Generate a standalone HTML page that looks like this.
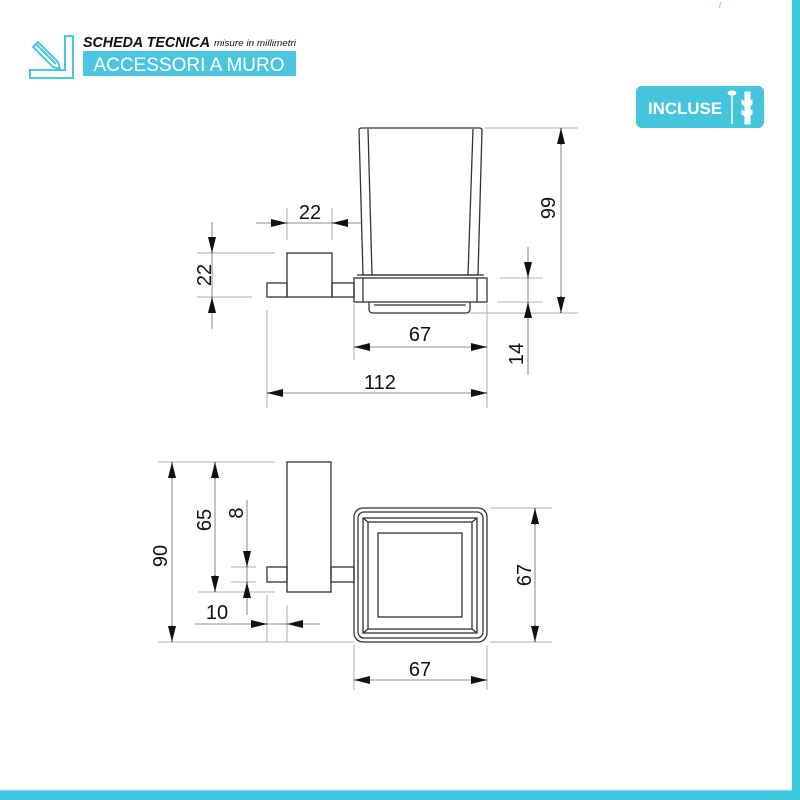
<!DOCTYPE html>
<html><head><meta charset="utf-8"><style>
html,body{margin:0;padding:0;background:#fff}
svg{display:block}
</style></head><body>
<svg width="800" height="800" viewBox="0 0 800 800" xmlns="http://www.w3.org/2000/svg" font-family="Liberation Sans, sans-serif">
<defs>
<marker id="a" viewBox="0 0 10 10" refX="10" refY="5" markerWidth="16" markerHeight="16" markerUnits="userSpaceOnUse" orient="auto-start-reverse"><path d="M0,2.5 L10,5 L0,7.5z" fill="#111"/></marker>
</defs>
<rect width="800" height="800" fill="#fff"/>
<rect x="792" y="0" width="8" height="800" fill="#3ec8dd"/>
<rect x="0" y="790" width="800" height="10" fill="#3ec8dd"/>
<line x1="0" y1="790" x2="792" y2="790" stroke="#bfeef5" stroke-width="1"/>
<line x1="721" y1="2" x2="719" y2="8" stroke="#7fd8e8" stroke-width="1"/>

<!-- header icon -->
<g fill="none" stroke="#4cc6e0" stroke-width="2">
<path d="M65,36 h8 v42 h-43 v-8 h35 z"/>
<path d="M33,47 l5,-5 l20,20 l2,7 l-7,-2 z"/>
<path d="M36,44 l20,20"/>
</g>
<text x="83" y="47" font-size="15" font-weight="bold" font-style="italic" fill="#111" textLength="127" lengthAdjust="spacingAndGlyphs">SCHEDA TECNICA</text>
<text x="214" y="46" font-size="9" font-style="italic" fill="#111" textLength="82" lengthAdjust="spacingAndGlyphs">misure in millimetri</text>
<rect x="83" y="51" width="213" height="25" fill="#4cc6e0"/>
<text x="189" y="71" font-size="19" fill="#fff" text-anchor="middle">ACCESSORI A MURO</text>

<!-- INCLUSE -->
<rect x="636" y="86" width="128" height="42" rx="6" fill="#45c4dd"/>
<text x="648" y="114" font-size="17" font-weight="bold" fill="#fff" textLength="74" lengthAdjust="spacingAndGlyphs">INCLUSE</text>
<g stroke="#fff" fill="#fff"><line x1="732" y1="94" x2="732" y2="124" stroke-width="1.5"/><ellipse cx="732" cy="93" rx="4" ry="2"/><rect x="745" y="92" width="5" height="32"/><path d="M742,100 l5,4 l5,-4 v4 l-5,4 l-5,-4z M742,110 l5,4 l5,-4 v4 l-5,4 l-5,-4z"/></g>

<!-- TOP VIEW DRAWING -->
<g fill="none" stroke="#333" stroke-width="1.3">
<path d="M359,130 q0,-2 3,-2 h117 q3,0 3,2 l-4,145 h-115 z"/>
<line x1="368" y1="129" x2="372" y2="275"/>
<line x1="473" y1="129" x2="468" y2="275"/>
<rect x="354" y="278" width="133" height="24"/>
<line x1="363" y1="278" x2="363" y2="302"/>
<line x1="477" y1="278" x2="477" y2="302"/>
<line x1="357" y1="275" x2="484" y2="275"/>
<path d="M369,302 v7 q0,4 4,4 h93 q4,0 4,-4 v-7"/>
<line x1="374" y1="305" x2="466" y2="305"/>
<rect x="287" y="253" width="45" height="44"/>
<rect x="267" y="283" width="20" height="14"/>
<rect x="332" y="283" width="22" height="14"/>
</g>
<g stroke="#999" stroke-width="0.8">
<line x1="287" y1="208" x2="287" y2="240"/><line x1="332" y1="208" x2="332" y2="240"/>
<line x1="197" y1="253" x2="275" y2="253"/><line x1="197" y1="297" x2="252" y2="297"/>
<line x1="485" y1="128" x2="578" y2="128"/><line x1="470" y1="313" x2="578" y2="313"/>
<line x1="500" y1="278" x2="543" y2="278"/><line x1="497" y1="302" x2="543" y2="302"/>
<line x1="354" y1="304" x2="354" y2="360"/><line x1="487" y1="304" x2="487" y2="408"/>
<line x1="267" y1="310" x2="267" y2="408"/>
</g>
<g stroke="#666" stroke-width="0.8">
<line x1="256" y1="223" x2="362" y2="223"/>
<line x1="212" y1="222" x2="212" y2="329"/>
<line x1="561" y1="128" x2="561" y2="313"/>
<line x1="528" y1="247" x2="528" y2="375"/>
<line x1="354" y1="347" x2="487" y2="347"/>
<line x1="267" y1="393" x2="487" y2="393"/>
</g>
<g stroke="none">
<line x1="271" y1="223" x2="287" y2="223" stroke="#111" marker-end="url(#a)"/>
<line x1="348" y1="223" x2="332" y2="223" stroke="#111" marker-end="url(#a)"/>
<line x1="212" y1="237" x2="212" y2="253" stroke="#111" marker-end="url(#a)"/>
<line x1="212" y1="313" x2="212" y2="297" stroke="#111" marker-end="url(#a)"/>
<line x1="561" y1="145" x2="561" y2="128" stroke="#111" marker-end="url(#a)"/>
<line x1="561" y1="296" x2="561" y2="313" stroke="#111" marker-end="url(#a)"/>
<line x1="528" y1="262" x2="528" y2="278" stroke="#111" marker-end="url(#a)"/>
<line x1="528" y1="318" x2="528" y2="302" stroke="#111" marker-end="url(#a)"/>
<line x1="370" y1="347" x2="354" y2="347" stroke="#111" marker-end="url(#a)"/>
<line x1="471" y1="347" x2="487" y2="347" stroke="#111" marker-end="url(#a)"/>
<line x1="283" y1="393" x2="267" y2="393" stroke="#111" marker-end="url(#a)"/>
<line x1="471" y1="393" x2="487" y2="393" stroke="#111" marker-end="url(#a)"/>
</g>
<g font-size="20" fill="#111" text-anchor="middle">
<text x="310" y="219">22</text>
<text x="420" y="341">67</text>
<text x="380" y="389">112</text>
<text transform="translate(211,275) rotate(-90)">22</text>
<text transform="translate(555,208) rotate(-90)">99</text>
<text transform="translate(523,354) rotate(-90)">14</text>
</g>

<!-- BOTTOM VIEW -->
<g fill="none" stroke="#333" stroke-width="1.3">
<rect x="287" y="462" width="44" height="130"/>
<rect x="267" y="567" width="20" height="15"/>
<rect x="331" y="567" width="23" height="15"/>
<rect x="354" y="508" width="133" height="134" rx="9"/>
<rect x="358" y="512" width="125" height="126" rx="6"/>
<rect x="363" y="518" width="114" height="115"/>
<rect x="368" y="522" width="104" height="107"/>
<rect x="378" y="533" width="84" height="84"/>
<path d="M363,518 l5,4 M477,518 l-5,4 M363,633 l5,-4 M477,633 l-5,-4"/>
</g>
<g stroke="#999" stroke-width="0.8">
<line x1="158" y1="462" x2="275" y2="462"/>
<line x1="158" y1="642" x2="354" y2="642"/>
<line x1="198" y1="592" x2="275" y2="592"/>
<line x1="231" y1="567" x2="256" y2="567"/><line x1="231" y1="582" x2="256" y2="582"/>
<line x1="267" y1="595" x2="267" y2="642"/><line x1="287" y1="605" x2="287" y2="642"/>
<line x1="490" y1="508" x2="552" y2="508"/><line x1="490" y1="642" x2="552" y2="642"/>
<line x1="354" y1="645" x2="354" y2="690"/><line x1="487" y1="645" x2="487" y2="690"/>
</g>
<g stroke="#666" stroke-width="0.8">
<line x1="172" y1="462" x2="172" y2="642"/>
<line x1="215" y1="462" x2="215" y2="592"/>
<line x1="247" y1="500" x2="247" y2="615"/>
<line x1="195" y1="624" x2="320" y2="624"/>
<line x1="535" y1="508" x2="535" y2="642"/>
<line x1="354" y1="680" x2="487" y2="680"/>
</g>
<g>
<line x1="172" y1="479" x2="172" y2="462" stroke="#111" marker-end="url(#a)"/>
<line x1="172" y1="625" x2="172" y2="642" stroke="#111" marker-end="url(#a)"/>
<line x1="215" y1="479" x2="215" y2="462" stroke="#111" marker-end="url(#a)"/>
<line x1="215" y1="575" x2="215" y2="592" stroke="#111" marker-end="url(#a)"/>
<line x1="247" y1="551" x2="247" y2="567" stroke="#111" marker-end="url(#a)"/>
<line x1="247" y1="598" x2="247" y2="582" stroke="#111" marker-end="url(#a)"/>
<line x1="251" y1="624" x2="267" y2="624" stroke="#111" marker-end="url(#a)"/>
<line x1="303" y1="624" x2="287" y2="624" stroke="#111" marker-end="url(#a)"/>
<line x1="535" y1="525" x2="535" y2="508" stroke="#111" marker-end="url(#a)"/>
<line x1="535" y1="625" x2="535" y2="642" stroke="#111" marker-end="url(#a)"/>
<line x1="370" y1="680" x2="354" y2="680" stroke="#111" marker-end="url(#a)"/>
<line x1="471" y1="680" x2="487" y2="680" stroke="#111" marker-end="url(#a)"/>
</g>
<g font-size="20" fill="#111" text-anchor="middle">
<text x="217" y="619">10</text>
<text x="420" y="676">67</text>
<text transform="translate(167,556) rotate(-90)">90</text>
<text transform="translate(211,520) rotate(-90)">65</text>
<text transform="translate(243,513) rotate(-90)">8</text>
<text transform="translate(531,575) rotate(-90)">67</text>
</g>
</svg>
</body></html>
